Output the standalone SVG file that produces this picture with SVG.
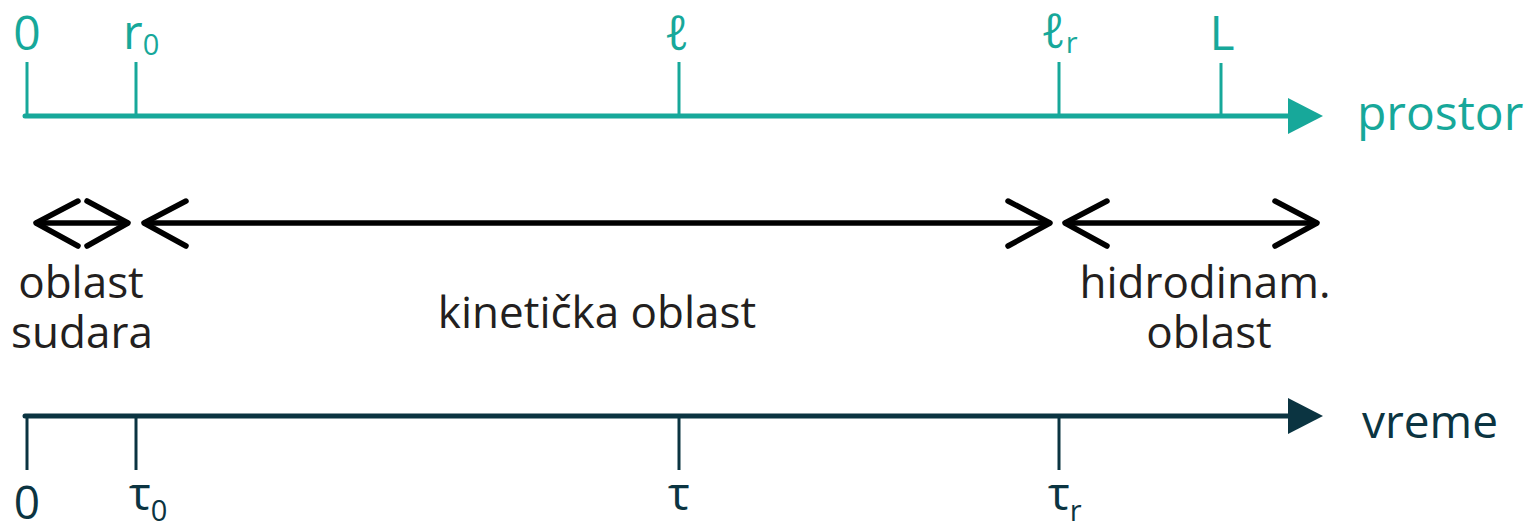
<svg xmlns="http://www.w3.org/2000/svg" width="1535" height="526" viewBox="0 0 1535 526">
<style>
.blk{stroke:#000;fill:none;stroke-width:5.5;stroke-linecap:round;stroke-linejoin:round}
.tt{fill:#17A89A;font-family:'Open Sans',sans-serif;font-size:48px}
.td{fill:#0B3441;font-family:'Open Sans',sans-serif;font-size:46px}
.tb{fill:#231F20;font-family:'Open Sans',sans-serif;font-size:44px;text-anchor:middle}
.sub{font-size:29px}
</style>
<g id="space-axis">
<line x1="25" y1="116" x2="1292" y2="116" stroke="#17A89A" stroke-width="5" stroke-linecap="round"/>
<polygon points="1288,98 1323,116 1288,134" fill="#17A89A"/>
<g stroke="#17A89A" stroke-width="3">
<line x1="27" y1="62" x2="27" y2="116"/>
<line x1="136" y1="62" x2="136" y2="116"/>
<line x1="679" y1="62" x2="679" y2="116"/>
<line x1="1059" y1="62" x2="1059" y2="116"/>
<line x1="1221" y1="63" x2="1221" y2="116"/>
</g>
<text class="tt" x="27" y="50" text-anchor="middle" font-size="46">0</text>
<text class="tt" x="123" y="49">r<tspan class="sub" dy="6">0</tspan></text>
<text class="tt" x="677" y="50" text-anchor="middle">ℓ</text>
<text class="tt" x="1041" y="48">ℓ<tspan class="sub" dy="5">r</tspan></text>
<text class="tt" x="1222" y="50" text-anchor="middle">L</text>
<text class="tt" x="1357" y="130" font-size="47">prostor</text>
</g>
<g id="regions">
<g class="blk">
<line x1="37" y1="223" x2="127" y2="223"/>
<path d="M78,201 L36,223 L78,246"/>
<path d="M87,201 L128,223 L87,246"/>
<line x1="145" y1="223" x2="1049" y2="223"/>
<path d="M186,201 L144,223 L186,246"/>
<path d="M1008,201 L1050,223 L1008,246"/>
<line x1="1066" y1="223" x2="1316" y2="223"/>
<path d="M1107,201 L1065,223 L1107,246"/>
<path d="M1275,201 L1317,223 L1275,246"/>
</g>
<text class="tb" x="81" y="298">oblast</text>
<text class="tb" x="82" y="348">sudara</text>
<text class="tb" x="597" y="328">kinetička oblast</text>
<text class="tb" x="1205" y="298">hidrodinam.</text>
<text class="tb" x="1209" y="348">oblast</text>
</g>
<g id="time-axis">
<line x1="25" y1="416" x2="1292" y2="416" stroke="#0B3441" stroke-width="5" stroke-linecap="round"/>
<polygon points="1288,398 1323,416 1288,434" fill="#0B3441"/>
<g stroke="#0B3441" stroke-width="3">
<line x1="27" y1="416" x2="27" y2="470"/>
<line x1="136" y1="416" x2="136" y2="470"/>
<line x1="679" y1="416" x2="679" y2="470"/>
<line x1="1059" y1="416" x2="1059" y2="470"/>
</g>
<text class="td" x="27" y="519" text-anchor="middle">0</text>
<text class="td" x="129" y="510">τ<tspan class="sub" dy="11">0</tspan></text>
<text class="td" x="679" y="510" text-anchor="middle">τ</text>
<text class="td" x="1048" y="510">τ<tspan class="sub" dy="11">r</tspan></text>
<text class="td" x="1362" y="438" font-size="47">vreme</text>
</g>
</svg>
